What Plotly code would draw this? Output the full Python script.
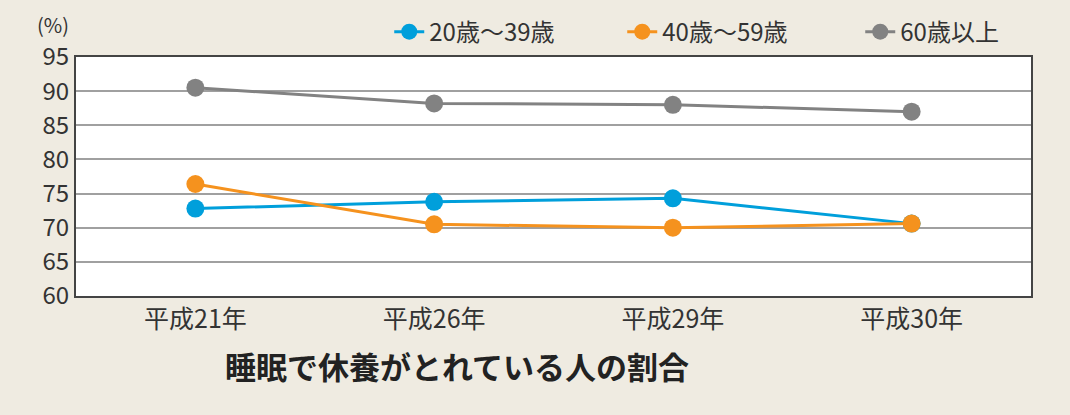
import plotly.graph_objects as go

categories = ["平成21年", "平成26年", "平成29年", "平成30年"]
age_20_39 = [72.8, 73.8, 74.3, 70.6]
age_40_59 = [76.4, 70.5, 70.0, 70.6]
age_60_plus = [90.5, 88.2, 88.0, 87.0]
series_names = ["20歳～39歳", "40歳～59歳", "60歳以上"]
colors = ["#009FDB", "#F5921E", "#828282"]
legend_widths = [188, 193, 120]
y_ticks = [60, 65, 70, 75, 80, 85, 90, 95]

FONT = "Noto Sans CJK JP"
fig = go.Figure()
for name, vals, c, lw in zip(series_names, [age_20_39, age_40_59, age_60_plus], colors, legend_widths):
    fig.add_trace(go.Scatter(
        x=categories, y=vals, name=name, mode="lines+markers",
        line=dict(color=c, width=3),
        marker=dict(color=c, size=18),
        legendwidth=lw,
    ))

fig.update_layout(
    width=1070, height=415,
    paper_bgcolor="#EFEBE1", plot_bgcolor="#FFFFFF",
    margin=dict(l=76, r=39, t=57, b=119, autoexpand=False),
    font=dict(family=FONT, color="#333333"),
    showlegend=True,
    legend=dict(orientation="h", x=0.328, xanchor="left", y=1.01, yanchor="bottom",
                font=dict(size=24, color="#333333"), bgcolor="rgba(0,0,0,0)",
                entrywidthmode="pixels",
                traceorder="normal"),
    xaxis=dict(type="category", range=[-0.5, 3.5], showgrid=False,
               showline=True, linecolor="#444444", linewidth=2, mirror=True,
               ticks="", tickfont=dict(size=25, color="#333333")),
    yaxis=dict(range=[60, 95], tickvals=y_ticks, showgrid=True,
               gridcolor="#A0A0A0", gridwidth=1.5,
               showline=True, linecolor="#444444", linewidth=2, mirror=True,
               ticks="", tickfont=dict(size=24, color="#333333")),
    annotations=[
        dict(text="(%)", xref="paper", yref="paper", x=-0.005, y=1.065,
             xanchor="right", yanchor="bottom", showarrow=False,
             font=dict(size=20, color="#333333")),
        dict(text="<b>睡眠で休養がとれている人の割合</b>", xref="paper", yref="paper",
             x=0.399, y=-0.289, xanchor="center", yanchor="middle", showarrow=False,
             font=dict(size=31, color="#222222")),
    ],
)
fig.write_html("out.html")
